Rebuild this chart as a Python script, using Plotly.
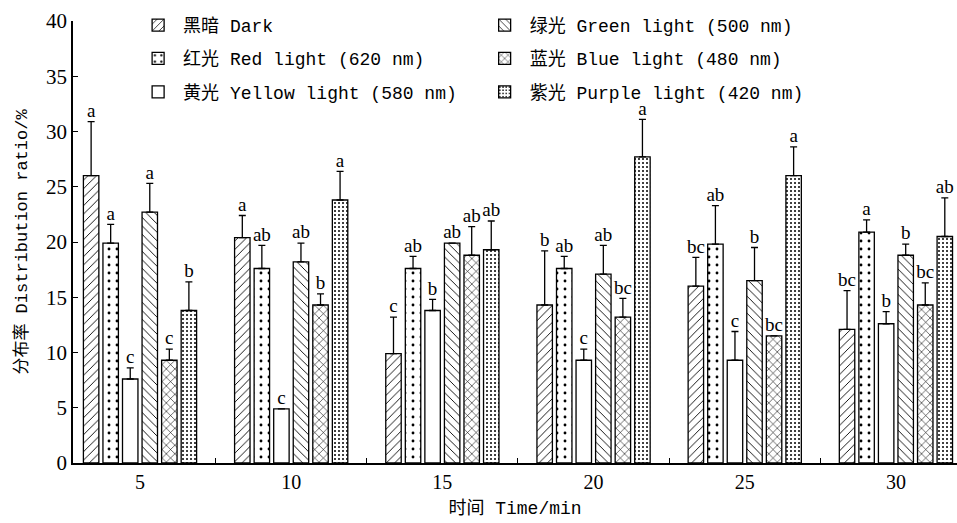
import plotly.graph_objects as go

times = [5, 10, 15, 20, 25, 30]
tick_labels = ["5", "10", "15", "20", "25", "30"]
series_names = ["黑暗 Dark", "红光 Red light (620 nm)", "黄光 Yellow light (580 nm)",
                "绿光 Green light (500 nm)", "蓝光 Blue light (480 nm)", "紫光 Purple light (420 nm)"]

dark = [26.0, 20.4, 9.9, 14.3, 16.0, 12.1]
red = [19.9, 17.6, 17.6, 17.6, 19.8, 20.9]
yellow = [7.6, 4.9, 13.8, 9.3, 9.3, 12.6]
green = [22.7, 18.2, 19.9, 17.1, 16.5, 18.8]
blue = [9.3, 14.3, 18.8, 13.2, 11.5, 14.3]
purple = [13.8, 23.8, 19.3, 27.7, 26.0, 20.5]

dark_err = [4.9, 2.0, 3.3, 4.9, 2.6, 3.5]
red_err = [1.7, 2.1, 1.1, 1.1, 3.5, 1.1]
yellow_err = [1.0, 0.0, 1.0, 1.0, 2.6, 1.1]
green_err = [2.6, 1.7, 0.0, 2.6, 3.0, 1.0]
blue_err = [1.0, 1.0, 2.6, 1.7, 0.0, 2.0]
purple_err = [2.6, 2.6, 2.6, 3.4, 2.6, 3.5]

dark_sig = ["a", "a", "c", "b", "bc", "bc"]
red_sig = ["a", "ab", "ab", "ab", "ab", "a"]
yellow_sig = ["c", "c", "b", "c", "c", "b"]
green_sig = ["a", "ab", "ab", "ab", "b", "b"]
blue_sig = ["c", "b", "ab", "bc", "bc", "bc"]
purple_sig = ["b", "a", "ab", "a", "a", "ab"]

values = [dark, red, yellow, green, blue, purple]
errors = [dark_err, red_err, yellow_err, green_err, blue_err, purple_err]
sigs = [dark_sig, red_sig, yellow_sig, green_sig, blue_sig, purple_sig]

patterns = [
    dict(shape="/", size=6, solidity=0.15),
    dict(shape=".", size=8, solidity=0.1),
    dict(shape=""),
    dict(shape="\\", size=6, solidity=0.15),
    dict(shape="x", size=6, solidity=0.18),
    dict(shape=".", size=4, solidity=0.2),
]
legend_ids = ["legend", "legend", "legend", "legend2", "legend2", "legend2"]

FONT = "Liberation Mono, Noto Sans CJK SC, monospace"
SERIF = "Liberation Serif, Noto Sans CJK SC, serif"

fig = go.Figure()
for i in range(6):
    pat = dict(patterns[i])
    pat.update(fgcolor="black", bgcolor="white", fillmode="replace")
    fig.add_trace(go.Bar(
        x=times, y=values[i], name=series_names[i],
        offsetgroup=str(i), legendgroup=str(i), legend=legend_ids[i],
        marker=dict(color="white", line=dict(color="black", width=1.3), pattern=pat),
        error_y=dict(type="data", array=errors[i], arrayminus=[0] * 6, symmetric=False,
                     color="black", thickness=1.3, width=3.5),
    ))
for i in range(6):
    tops = [v + e for v, e in zip(values[i], errors[i])]
    fig.add_trace(go.Scatter(
        x=times, y=tops, text=sigs[i], mode="text", textposition="top center",
        offsetgroup=str(i), showlegend=False, hoverinfo="skip", cliponaxis=False,
        textfont=dict(family=SERIF, size=19, color="black"),
    ))

fig.update_layout(
    width=957, height=523,
    margin=dict(l=73, r=0, t=21, b=60, autoexpand=False),
    paper_bgcolor="white", plot_bgcolor="white",
    barmode="group", bargap=0.224, bargroupgap=0.21,
    scattermode="group", scattergap=0.224,
    font=dict(family=FONT, size=18, color="black"),
    legend=dict(x=0.068, y=1.032, xanchor="left", yanchor="top",
                font=dict(family=FONT, size=18), tracegroupgap=7,
                bgcolor="rgba(0,0,0,0)", itemwidth=40),
    legend2=dict(x=0.46, y=1.032, xanchor="left", yanchor="top",
                 font=dict(family=FONT, size=18), tracegroupgap=7,
                 bgcolor="rgba(0,0,0,0)", itemwidth=40),
    xaxis=dict(
        range=[2.784, 32.02], tickvals=times, ticktext=tick_labels, ticks="",
        showline=True, linecolor="black", linewidth=1.5, showgrid=False, zeroline=False,
        tickfont=dict(family=SERIF, size=20), ticklabelstandoff=0,
        minor=dict(tick0=2.5, dtick=5, ticks="inside", ticklen=5, tickcolor="black", showgrid=False),
        title=dict(text="时间 Time/min", font=dict(family=FONT, size=18), standoff=10),
    ),
    yaxis=dict(
        range=[0, 40], dtick=5, ticks="inside", ticklen=5, tickcolor="black",
        showline=True, linecolor="black", linewidth=1.5, showgrid=False, zeroline=False,
        tickfont=dict(family=SERIF, size=21),
        title=dict(text="分布率 Distribution ratio/%", font=dict(family=FONT, size=17), standoff=14),
    ),
)

fig.write_html("out.html", config={"displayModeBar": False},
               post_script="document.body.style.margin='0';")
